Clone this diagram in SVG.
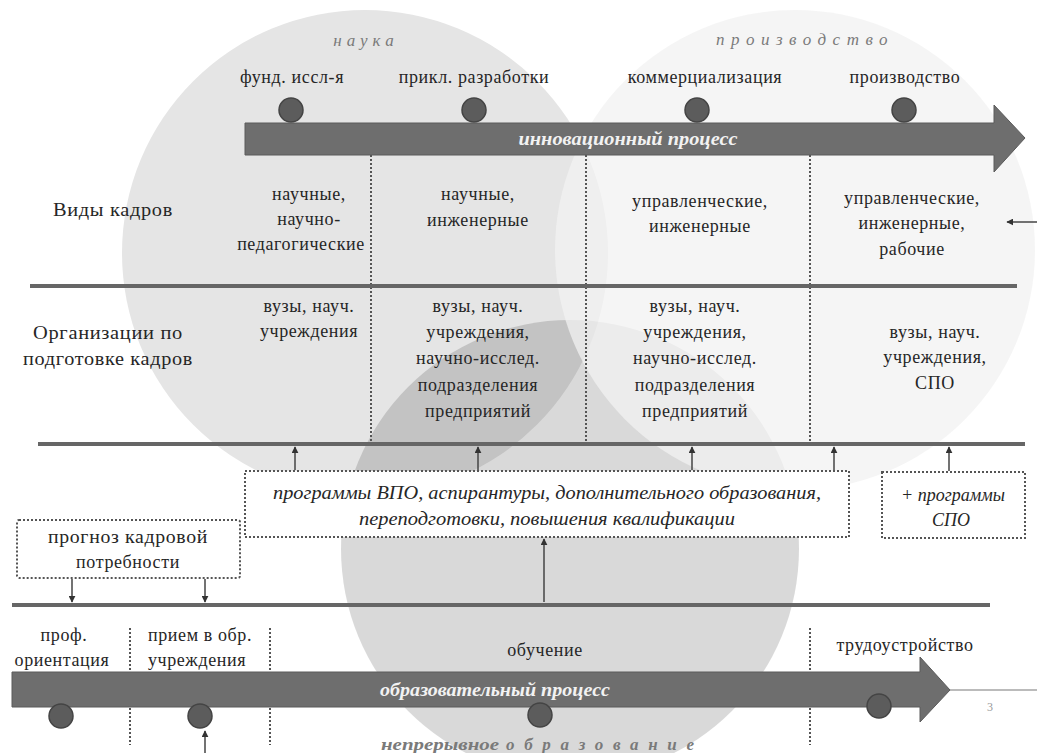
<svg xmlns="http://www.w3.org/2000/svg" width="1037" height="753" viewBox="0 0 1037 753" font-family="'Liberation Serif', 'Noto Serif', 'DejaVu Serif', 'Times New Roman', serif">
<defs>
<style>
.t{font-family:'Liberation Serif','Noto Serif','DejaVu Serif','Times New Roman',serif;font-size:18px;fill:#262626;text-anchor:middle;letter-spacing:0.6px}
.ti{font-family:'Liberation Serif','Noto Serif','DejaVu Serif','Times New Roman',serif;font-size:18px;font-style:italic;fill:#262626;text-anchor:middle}
.tw{font-family:'Liberation Serif','Noto Serif','DejaVu Serif','Times New Roman',serif;font-size:18px;font-style:italic;font-weight:bold;fill:#f2f2f2;text-anchor:middle}
.tg{font-family:'Liberation Serif','Noto Serif','DejaVu Serif','Times New Roman',serif;font-size:17px;font-style:italic;fill:#7a7a7a;text-anchor:middle}
.pg{font-family:'Liberation Serif','Noto Serif','DejaVu Serif','Times New Roman',serif;font-size:12px;fill:#999;text-anchor:middle}
.dot{fill:#5c5c5c;stroke:#444;stroke-width:1.5}
.hl{stroke:#666;stroke-width:4;fill:none}
.vd{stroke:#555;stroke-width:2;stroke-dasharray:2 2;fill:none}
.bx{fill:#fff;stroke:#555;stroke-width:2;stroke-dasharray:2 2}
.ar{stroke:#444;stroke-width:1.5;fill:none;marker-end:url(#ah)}
.big{fill:#6e6e6e;stroke:#5a5a5a;stroke-width:1}
</style>
<marker id="ah" viewBox="0 0 10 10" refX="9" refY="5" markerWidth="7" markerHeight="7" orient="auto" markerUnits="userSpaceOnUse">
<path d="M0,0 L10,5 L0,10 z" fill="#333"/>
</marker>
</defs>
<rect width="1037" height="753" fill="#fff"/>
<g id="spheres">
<circle id="sphere-nauka" cx="365" cy="253" r="243" fill="#e5e5e5"/>
<circle id="sphere-obrazovanie" cx="570" cy="549" r="229" fill="#000" fill-opacity="0.15"/>
<circle id="sphere-proizvodstvo" cx="795" cy="250" r="240" fill="#f2f2f2" fill-opacity="0.75"/>
</g>
<g id="labels-top">
<text class="tg" x="366" y="46" letter-spacing="5">наука</text>
<text class="tg" x="805" y="45" letter-spacing="6.5">производство</text>
</g>
<g id="innovation-process">
<path class="big" d="M245,123 H994 V105 L1025,138 L994,172 V155 H245 Z"/>
<text class="tw" x="628" y="145" textLength="219" lengthAdjust="spacingAndGlyphs">инновационный процесс</text>
</g>
<g id="stages-top">
<g id="stage-fund"><circle class="dot" cx="291" cy="110" r="12"/><text class="t" x="292" y="83">фунд. иссл-я</text></g>
<g id="stage-prikl"><circle class="dot" cx="474" cy="110" r="12"/><text class="t" x="474" y="83">прикл. разработки</text></g>
<g id="stage-komm"><circle class="dot" cx="697" cy="110" r="12"/><text class="t" x="705" y="83">коммерциализация</text></g>
<g id="stage-proizv"><circle class="dot" cx="904" cy="110" r="12"/><text class="t" x="905" y="83">производство</text></g>
</g>
<g id="grid">
<line class="vd" x1="371" y1="155" x2="371" y2="443"/>
<line class="vd" x1="586" y1="155" x2="586" y2="443"/>
<line class="vd" x1="810" y1="155" x2="810" y2="443"/>
<line class="hl" x1="30" y1="286" x2="1017" y2="286"/>
<line class="hl" x1="38" y1="444" x2="1025" y2="444"/>
<line class="hl" x1="12" y1="605" x2="990" y2="605"/>
</g>
<g id="row-kadry">
<text class="t" x="113" y="216" textLength="120" lengthAdjust="spacingAndGlyphs">Виды кадров</text>
<text class="t" x="309" y="200">научные,</text>
<text class="t" x="309" y="225">научно-</text>
<text class="t" x="301" y="250">педагогические</text>
<text class="t" x="478" y="200">научные,</text>
<text class="t" x="478" y="226">инженерные</text>
<text class="t" x="700" y="207">управленческие,</text>
<text class="t" x="700" y="232">инженерные</text>
<text class="t" x="912" y="204">управленческие,</text>
<text class="t" x="912" y="229">инженерные,</text>
<text class="t" x="912" y="255">рабочие</text>
</g>
<g id="row-org">
<text class="t" x="108" y="339" textLength="150" lengthAdjust="spacingAndGlyphs">Организации по</text>
<text class="t" x="108" y="365" textLength="170" lengthAdjust="spacingAndGlyphs">подготовке кадров</text>
<text class="t" x="309" y="312">вузы, науч.</text>
<text class="t" x="309" y="337">учреждения</text>
<text class="t" x="478" y="312">вузы, науч.</text>
<text class="t" x="478" y="338">учреждения,</text>
<text class="t" x="478" y="364">научно-исслед.</text>
<text class="t" x="478" y="391">подразделения</text>
<text class="t" x="478" y="417">предприятий</text>
<text class="t" x="695" y="312">вузы, науч.</text>
<text class="t" x="695" y="338">учреждения,</text>
<text class="t" x="695" y="364">научно-исслед.</text>
<text class="t" x="695" y="391">подразделения</text>
<text class="t" x="695" y="417">предприятий</text>
<text class="t" x="935" y="338">вузы, науч.</text>
<text class="t" x="935" y="363">учреждения,</text>
<text class="t" x="935" y="389">СПО</text>
</g>
<g id="box-programmy">
<rect class="bx" x="245" y="471" width="604" height="66"/>
<text class="ti" x="547" y="499" textLength="548" lengthAdjust="spacingAndGlyphs">программы ВПО, аспирантуры, дополнительного образования,</text>
<text class="ti" x="547" y="525" textLength="376" lengthAdjust="spacingAndGlyphs">переподготовки, повышения квалификации</text>
</g>
<g id="box-spo">
<rect class="bx" x="882" y="472" width="143" height="66"/>
<text class="ti" x="953" y="501">+ программы</text>
<text class="ti" x="951" y="526">СПО</text>
</g>
<g id="box-prognoz">
<rect class="bx" x="17" y="520" width="223" height="58" rx="2"/>
<text class="t" x="128" y="543" textLength="160" lengthAdjust="spacingAndGlyphs">прогноз кадровой</text>
<text class="t" x="128" y="568">потребности</text>
</g>
<g id="connectors">
<line class="ar" x1="295" y1="470" x2="295" y2="447"/>
<line class="ar" x1="478" y1="470" x2="478" y2="447"/>
<line class="ar" x1="692" y1="470" x2="692" y2="447"/>
<line class="ar" x1="834" y1="470" x2="834" y2="447"/>
<line class="ar" x1="949" y1="471" x2="949" y2="447"/>
<line class="ar" x1="72" y1="579" x2="72" y2="602"/>
<line class="ar" x1="205" y1="579" x2="205" y2="602"/>
<line class="ar" x1="544" y1="602" x2="544" y2="539"/>
<line class="ar" x1="1037" y1="222" x2="1007" y2="222"/>
<line class="ar" x1="205" y1="753" x2="205" y2="731"/>
</g>
<g id="education-process">
<line x1="950" y1="690" x2="1037" y2="690" stroke="#bbb" stroke-width="2"/>
<line class="vd" x1="130" y1="628" x2="130" y2="745"/>
<line class="vd" x1="270" y1="628" x2="270" y2="745"/>
<line class="vd" x1="810" y1="628" x2="810" y2="745"/>
<path class="big" d="M12,672 H920 V657 L950,690 L920,722 V707 H12 Z"/>
<text class="tw" x="495" y="696" textLength="230" lengthAdjust="spacingAndGlyphs">образовательный процесс</text>
<text class="pg" x="990" y="711">3</text>
</g>
<g id="stages-bottom">
<g id="stage-prof"><circle class="dot" cx="61" cy="716" r="12"/><text class="t" x="64" y="641">проф.</text><text class="t" x="62" y="666">ориентация</text></g>
<g id="stage-priem"><circle class="dot" cx="200" cy="716" r="12"/><text class="t" x="200" y="641">прием в обр.</text><text class="t" x="197" y="666">учреждения</text></g>
<g id="stage-obuch"><circle class="dot" cx="540" cy="715" r="12"/><text class="t" x="545" y="656">обучение</text></g>
<g id="stage-trud"><circle class="dot" cx="879" cy="706" r="12"/><text class="t" x="905" y="651">трудоустройство</text></g>
</g>
<g id="label-bottom">
<text class="tg" x="440" y="750" font-weight="bold" font-size="16" textLength="118" lengthAdjust="spacingAndGlyphs">непрерывное</text>
<text class="tg" x="600" y="750" font-weight="bold" font-size="16" textLength="188" lengthAdjust="spacing">образование</text>
</g>
</svg>
